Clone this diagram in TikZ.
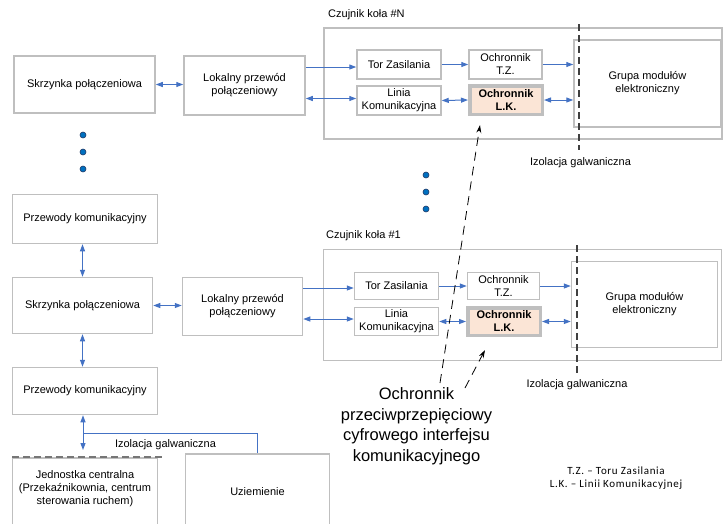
\documentclass[tikz,border=0pt]{standalone}
\usepackage{fontspec}
\setmainfont{Liberation Sans}
\newfontfamily\legendfont[LetterSpace=6]{Carlito}
\usetikzlibrary{arrows.meta}
\definecolor{boxgray}{RGB}{191,191,191}
\definecolor{linkblue}{RGB}{68,114,196}
\definecolor{dotblue}{RGB}{0,112,192}
\definecolor{dotedge}{RGB}{31,56,100}
\definecolor{lkfill}{RGB}{251,229,214}
\definecolor{isogray}{RGB}{64,64,64}
\definecolor{cutgray}{RGB}{118,118,118}

\begin{document}
\begin{tikzpicture}[x=1pt, y=-1pt, font=\fontsize{11}{13}\selectfont,
  >={Triangle[length=7pt,width=5pt]},
  box/.style={rectangle, draw=boxgray, line width=1.5pt, fill=white, align=center, inner sep=1pt},
  lkbox/.style={box, line width=3.5pt, fill=lkfill, font=\fontsize{11}{13}\selectfont\bfseries},
  link/.style={draw=linkblue, line width=1pt},
  dot/.style={circle, fill=dotblue, draw=dotedge, line width=0.6pt, inner sep=0pt, minimum size=6pt},
  iso/.style={draw=isogray, line width=1.2pt, dash pattern=on 7pt off 4pt},
  pointer/.style={draw=black, line width=0.8pt, dash pattern=on 9pt off 6pt, -{Stealth[length=8pt,width=5pt]}},
  txt/.style={inner sep=0pt, align=center}]
  \clip (0,0) rectangle (724,523);

  % wheel sensor #N
  \node[box, minimum width=141pt, minimum height=57pt] (skrzN) at (84.5,84.5) {Skrzynka połączeniowa};
  \node[box, minimum width=121pt, minimum height=59pt] (lokN) at (244.5,85.5) {Lokalny przewód\\połączeniowy};
  \node[box, minimum width=398pt, minimum height=111pt] (czN) at (523,83.5) {};
  \node[txt, anchor=west] (czNlabel) at (328,15) {Czujnik koła \#N};
  \node[box, minimum width=84pt, minimum height=29pt] (torN) at (399,64.5) {Tor Zasilania};
  \node[box, minimum width=84pt, minimum height=29pt] (linN) at (399,100.5) {Linia\\Komunikacyjna};
  \node[box, minimum width=73pt, minimum height=29pt] (tzN) at (505.5,64.5) {Ochronnik\\T.Z.};
  \node[lkbox, minimum width=72.5pt, minimum height=28.5pt] (lkN) at (506,100) {Ochronnik\\L.K.};
  \node[box, minimum width=147pt, minimum height=87pt] (grN) at (647.5,83.5) {Grupa modułów\\elektroniczny};
  \coordinate (isoNtop) at (579,24);
  \coordinate (isoNbot) at (579,150);
  \draw[iso] (isoNtop) -- (isoNbot);
  \node[txt] (isoNlabel) at (580.5,163) {Izolacja galwaniczna};

  \draw[link,<->] (skrzN.east) -- (skrzN.east -| lokN.west);
  \draw[link,->] ([yshift=-2.5pt]lokN.east |- torN.west) -- ([yshift=-2.5pt]torN.west);
  \draw[link,<->] ([yshift=2pt]lokN.east |- linN.west) -- ([yshift=2pt]linN.west);
  \draw[link,->] (torN.east) -- (tzN.west);
  \draw[link,->] (tzN.east) -- (tzN.east -| grN.west);
  \draw[link,<->] (linN.east) -- (lkN.west);
  \draw[link,<->] (lkN.east) -- (lkN.east -| grN.west);

  \foreach \i/\yy in {1/135,2/152,3/169}
    \node[dot] (dotL\i) at (83,\yy) {};
  \foreach \i/\yy in {1/175,2/192,3/209}
    \node[dot] (dotM\i) at (426,\yy) {};

  % wheel sensor #1
  \node[box, minimum width=145pt, minimum height=49pt] (przA) at (85,219) {Przewody komunikacyjny};
  \node[box, minimum width=140pt, minimum height=56pt] (skrz1) at (82.5,305.5) {Skrzynka połączeniowa};
  \node[box, minimum width=120pt, minimum height=58pt] (lok1) at (242.5,306.5) {Lokalny przewód\\połączeniowy};
  \node[box, minimum width=398pt, minimum height=111pt] (cz1) at (522.5,305) {};
  \node[txt, anchor=west] (cz1label) at (326,236) {Czujnik koła \#1};
  \node[box, minimum width=84pt, minimum height=27pt] (tor1) at (396.5,286) {Tor Zasilania};
  \node[box, minimum width=84pt, minimum height=28pt] (lin1) at (396.5,321.5) {Linia\\Komunikacyjna};
  \node[box, minimum width=72pt, minimum height=27pt] (tz1) at (503.5,286) {Ochronnik\\T.Z.};
  \node[lkbox, minimum width=72.5pt, minimum height=27.5pt] (lk1) at (504,321.5) {Ochronnik\\L.K.};
  \node[box, minimum width=146pt, minimum height=86pt] (gr1) at (644.5,304.5) {Grupa modułów\\elektroniczny};
  \coordinate (iso1top) at (577,245);
  \coordinate (iso1bot) at (577,373);
  \draw[iso] (iso1top) -- (iso1bot);
  \node[txt] (iso1label) at (577,385) {Izolacja galwaniczna};

  \draw[link,<->] (skrz1.east) -- (skrz1.east -| lok1.west);
  \draw[link,->] ([yshift=-2pt]lok1.east |- tor1.west) -- ([yshift=-2pt]tor1.west);
  \draw[link,<->] ([yshift=2.5pt]lok1.east |- lin1.west) -- ([yshift=2.5pt]lin1.west);
  \draw[link,->] (tor1.east) -- (tz1.west);
  \draw[link,->] (tz1.east) -- (tz1.east -| gr1.west);
  \draw[link,<->] (lin1.east) -- (lk1.west);
  \draw[link,<->] (lk1.east) -- (lk1.east -| gr1.west);

  % central unit and earthing
  \node[box, minimum width=145pt, minimum height=47pt] (przB) at (85,391) {Przewody komunikacyjny};
  \node[box, minimum width=145pt, minimum height=75pt, anchor=north] (jc) at (85,457) {};
  \node[txt] (jcText) at (85,488.5) {Jednostka centralna\\(Przekaźnikownia, centrum\\sterowania ruchem)};
  \node[box, minimum width=144pt, minimum height=76pt] (uz) at (257.5,492) {Uziemienie};
  \coordinate (cutL) at (12,457);
  \coordinate (cutR) at (162,457);
  \draw[draw=cutgray, line width=1.5pt, dash pattern=on 7pt off 4pt] (cutL) -- (cutR);
  \coordinate (tap) at (83,433);
  \draw[link] (tap) -| (uz.north);
  \node[txt] (isoBlabel) at (165.5,445) {Izolacja galwaniczna};

  \draw[link,<->] (skrz1.north |- przA.south) -- (skrz1.north);
  \draw[link,<->] (skrz1.south) -- (skrz1.south |- przB.north);
  \draw[link,<->] (przB.south -| tap) -- ([yshift=7pt]jc.north -| tap);

  % surge protector callout
  \node[txt, font=\fontsize{16.5}{20.5}\selectfont] (surge) at (416.5,426)
    {Ochronnik\\przeciwprzepięciowy\\cyfrowego interfejsu\\komunikacyjnego};
  \coordinate (ptrAstart) at (440,383);
  \coordinate (ptrAend) at (480,125);
  \coordinate (ptrBstart) at (465,388);
  \coordinate (ptrBend) at (485,350);
  \draw[pointer] (ptrAstart) -- (ptrAend);
  \draw[pointer] (ptrBstart) -- (ptrBend);

  \node[txt, font=\legendfont\fontsize{11}{12.5}\selectfont] (legend) at (616,478)
    {T.Z. – Toru Zasilania\\L.K. – Linii Komunikacyjnej};
\end{tikzpicture}
\end{document}
